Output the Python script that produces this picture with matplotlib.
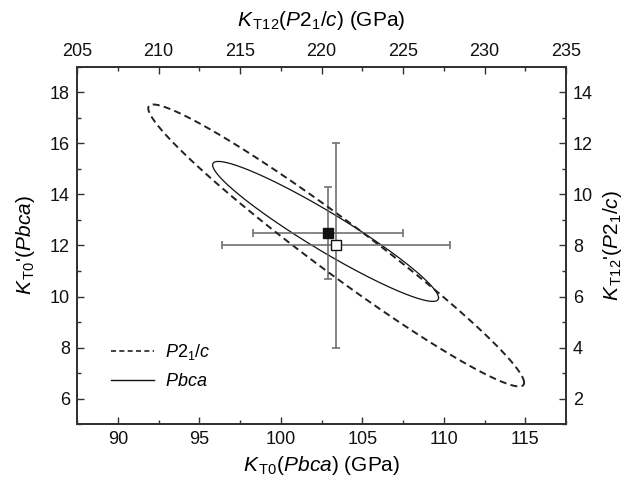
import numpy as np
import matplotlib
matplotlib.use("Agg")
import matplotlib.pyplot as plt
from matplotlib.ticker import MultipleLocator, FixedLocator
from matplotlib.lines import Line2D

plt.rcParams["font.family"] = ["Liberation Sans", "DejaVu Sans"]
plt.rcParams["mathtext.fontset"] = "custom"
plt.rcParams["mathtext.rm"] = "Liberation Sans"
plt.rcParams["mathtext.it"] = "Liberation Sans:italic"
plt.rcParams["mathtext.bf"] = "Liberation Sans:bold"

# --- Pbca fit (bottom / left axes) ---
pbca_k0 = [102.9]
pbca_k0_err = [4.6]
pbca_kp = [12.5]
pbca_kp_err = [1.8]
pbca_ell_center = (102.75, 12.55)
pbca_ell_half = (6.93, 2.74)
pbca_ell_rho = -0.949

# --- P2_1/c fit (top / right axes) ---
p21c_k12 = [220.9]
p21c_k12_err = [7.0]
p21c_kp = [8.0]
p21c_kp_err = [4.0]
p21c_ell_center = (220.9, 8.0)
p21c_ell_half = (11.53, 5.52)
p21c_ell_rho = -0.973

# --- axis ranges and tick labels ---
bottom_lim = (87.5, 117.5)
bottom_ticks = [90, 95, 100, 105, 110, 115]
left_lim = (5, 19)
left_ticks = [6, 8, 10, 12, 14, 16, 18]
top_lim = (205, 235)
top_ticks = [205, 210, 215, 220, 225, 230, 235]
right_lim = (1, 15)
right_ticks = [2, 4, 6, 8, 10, 12, 14]


def confidence_ellipse(center, half, rho, n=400):
    """Outline of a correlated error ellipse given its half extents and correlation."""
    t = np.linspace(0, 2 * np.pi, n)
    cx, cy = center
    a, b = half
    x = cx + a * np.cos(t)
    y = cy + b * (rho * np.cos(t) + np.sqrt(1 - rho ** 2) * np.sin(t))
    return x, y


fig = plt.figure(figsize=(6.39, 4.87), dpi=100)
ax = fig.add_axes([0.1205, 0.1288, 0.7653, 0.7343])
ax_r = ax.twinx()
ax_t = ax_r.twiny()

spine_col = "#333333"
err_col = "#666666"
tick_fs = 13
label_fs = 15

# Pbca ellipse and point
ex, ey = confidence_ellipse(pbca_ell_center, pbca_ell_half, pbca_ell_rho)
ax.plot(ex, ey, color="#111111", lw=0.9, zorder=2)
ax.errorbar(pbca_k0, pbca_kp, xerr=pbca_k0_err, yerr=pbca_kp_err, fmt="none",
            ecolor=err_col, elinewidth=1.1, capsize=3, capthick=1.1, zorder=3)
ax.plot(pbca_k0, pbca_kp, ls="none", marker="s", ms=7.5, mfc="#111111",
        mec="#111111", mew=1.0, zorder=4)

# P2_1/c ellipse and point
dx, dy = confidence_ellipse(p21c_ell_center, p21c_ell_half, p21c_ell_rho)
ax_t.plot(dx, dy, color="#222222", lw=1.4, ls=(0, (3.6, 2.2)), zorder=2)
ax_t.errorbar(p21c_k12, p21c_kp, xerr=p21c_k12_err, yerr=p21c_kp_err, fmt="none",
              ecolor=err_col, elinewidth=1.1, capsize=3, capthick=1.1, zorder=3)
ax_t.plot(p21c_k12, p21c_kp, ls="none", marker="s", ms=7.5, mfc="white",
          mec="#111111", mew=1.0, zorder=4)

# limits and ticks
ax.set_xlim(*bottom_lim)
ax.set_ylim(*left_lim)
ax_r.set_ylim(*right_lim)
ax_t.set_xlim(*top_lim)
ax_t.set_ylim(*right_lim)

ax.xaxis.set_major_locator(FixedLocator(bottom_ticks))
ax.xaxis.set_minor_locator(MultipleLocator(2.5))
ax.yaxis.set_major_locator(FixedLocator(left_ticks))
ax.yaxis.set_minor_locator(MultipleLocator(1))
ax_r.yaxis.set_major_locator(FixedLocator(right_ticks))
ax_r.yaxis.set_minor_locator(MultipleLocator(1))
ax_t.xaxis.set_major_locator(FixedLocator(top_ticks))
ax_t.xaxis.set_minor_locator(MultipleLocator(2.5))

for a_ in (ax, ax_r, ax_t):
    a_.tick_params(which="both", direction="in", color=spine_col,
                   labelsize=tick_fs, labelcolor="#111111", width=1.0, pad=5)
    a_.tick_params(which="major", length=5)
    a_.tick_params(which="minor", length=3)
    for s in a_.spines.values():
        s.set_color(spine_col)
        s.set_linewidth(1.2)
ax.tick_params(top=False, right=False)

ax.set_xlabel(r"$K_{\,\rm T0}$($Pbca$) (GPa)", fontsize=label_fs, labelpad=4)
ax.set_ylabel(r"$K_{\,\rm T0}$'($Pbca$)", fontsize=label_fs, labelpad=9)
ax_r.set_ylabel(r"$K_{\,\rm T12}$'($P$2$_{1}$/$c$)", fontsize=label_fs, labelpad=6)
ax_t.set_xlabel(r"$K_{\,\rm T12}$($P$2$_{1}$/$c$) (GPa)", fontsize=label_fs, labelpad=12)

handles = [
    Line2D([], [], color="#222222", lw=1.2, ls=(0, (3, 2))),
    Line2D([], [], color="#111111", lw=1.0),
]
labels = [r"$P$2$_{1}$/$c$", r"$Pbca$"]
ax_t.legend(handles, labels, loc="lower left", bbox_to_anchor=(0.055, 0.075),
            frameon=False, fontsize=tick_fs, handlelength=2.4, handletextpad=0.6,
            labelspacing=0.6, borderaxespad=0.0)

fig.savefig("out.png", dpi=100)
